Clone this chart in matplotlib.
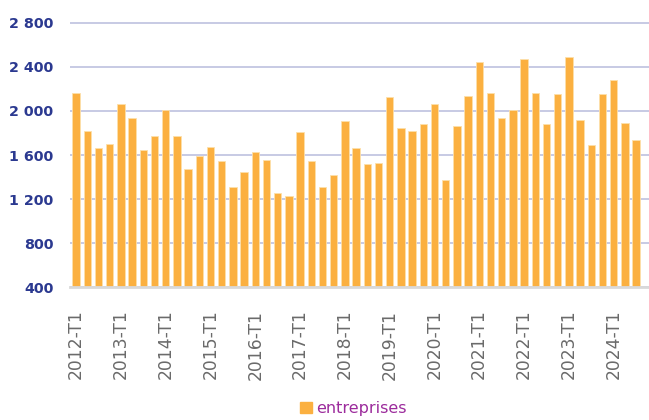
import numpy as np
import matplotlib.pyplot as plt
from matplotlib.patches import Patch

# quarterly values, 2012-T1 .. 2024-T3
years = list(range(2012, 2025))
quarters = [f"{y}-T{q}" for y in years for q in range(1, 5)][:51]
entreprises = [2165, 1818, 1661, 1703, 2063, 1936, 1645, 1775,
               2008, 1775, 1470, 1588, 1675, 1543, 1312, 1443,
               1630, 1557, 1255, 1225, 1806, 1543, 1312, 1416,
               1906, 1661, 1516, 1530, 2123, 1848, 1818, 1878,
               2065, 1370, 1863, 2138, 2441, 2165, 1936, 2008,
               2471, 2165, 1878, 2153, 2486, 1920, 1688, 2153,
               2283, 1890, 1733]
yticks = [400, 800, 1200, 1600, 2000, 2400, 2800]

bar_col = '#fbb040'
navy = '#2b3990'
purple = '#9c2b9c'

fig = plt.figure(figsize=(6.49, 4.20), dpi=100)
ax = fig.add_axes([0.1079, 0.316, 0.8921, 0.643])

x = np.arange(len(entreprises))
ax.bar(x, entreprises, width=0.66, color=bar_col, edgecolor='#fde0aa',
       linewidth=0.6, zorder=3)

ax.set_ylim(400, 2850)
ax.set_xlim(-0.54, 51.16)
ax.set_yticks(yticks)
ax.set_yticklabels([f"{v:,}".replace(",", " ") for v in yticks])
ax.grid(axis='y', color='#c3c6e2', linewidth=1.3, zorder=0)
ax.set_axisbelow(True)

for s in ['top', 'right', 'left']:
    ax.spines[s].set_visible(False)
ax.spines['bottom'].set_color('#d9d9d9')
ax.spines['bottom'].set_linewidth(2)
ax.spines['bottom'].set_zorder(4)

ax.tick_params(axis='y', length=0, pad=12, labelsize=10.3, labelcolor=navy)
for t in ax.get_yticklabels():
    t.set_fontweight('bold')

ax.set_xticks(x[::4])
ax.set_xticklabels(quarters[::4], rotation=90, fontsize=12.3, color='#6a6a6a')
ax.tick_params(axis='x', length=0, pad=16)

fig.legend(handles=[Patch(color=bar_col)], labels=['entreprises'],
           loc='center', bbox_to_anchor=(0.545, 0.028), frameon=False,
           fontsize=11.5, labelcolor=purple, handlelength=0.7,
           handleheight=0.7, handletextpad=0.3)

fig.savefig('out.png', dpi=100)
